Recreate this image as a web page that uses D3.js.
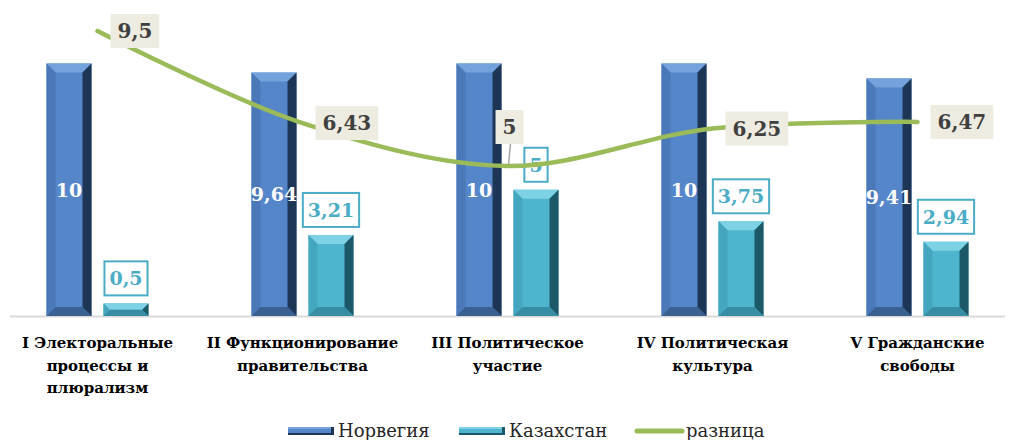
<!DOCTYPE html>
<html>
<head>
<meta charset="utf-8">
<script src="https://cdn.jsdelivr.net/npm/d3@7"></script>
<style>
  body { margin: 0; background: #fff; }
  svg { display: block; }
</style>
</head>
<body>
<script>
// chart data
const categories = [
  "I Электоральные\nпроцессы и\nплюрализм",
  "II Функционирование\nправительства",
  "III Политическое\nучастие",
  "IV Политическая\nкультура",
  "V Гражданские\nсвободы"
];
const seriesNames = ["Норвегия", "Казахстан", "разница"];
const norway = [10, 9.64, 10, 10, 9.41];
const kazakhstan = [0.5, 3.21, 5, 3.75, 2.94];
const diff = [9.5, 6.43, 5, 6.25, 6.47];
const diffLabelPos = ["right", "right", "above", "right", "right"];

const width = 1011, height = 440;
const fmt = v => String(v).replace(".", ",");
const serif = "'DejaVu Serif', serif";

const svg = d3.select("body").append("svg")
    .attr("width", width)
    .attr("height", height);

const x = d3.scaleBand().domain(d3.range(categories.length)).range([-5, 1020]);
const x1 = d3.scaleBand().domain([0, 1])
    .range([x.bandwidth() / 2 - 51, x.bandwidth() / 2 + 51])
    .paddingInner(0.21);
const y = d3.scaleLinear().domain([0, 12]).range([316, 13]);
const y2 = d3.scaleLinear().domain([0, 10]).range([316, 16]);

const colors = {
  nor: { main: "#5586c9", top: "#74a2dc", left: "#4a78b8", right: "#1e3656", bottom: "#3a5f91" },
  kaz: { main: "#4fb5cf", top: "#7ed2e5", left: "#45a6bf", right: "#1c5868", bottom: "#378ea4" }
};

// axis line
svg.append("line")
    .attr("x1", 10).attr("x2", 1005)
    .attr("y1", y(0) + 0.5).attr("y2", y(0) + 0.5)
    .attr("stroke", "#d9d9d9").attr("stroke-width", 2);

function bevelBar(g, x0, w, y0, y1, c) {
  const b = Math.min(9, (y1 - y0) / 2);
  g.append("rect").attr("x", x0).attr("y", y0).attr("width", w).attr("height", y1 - y0).attr("fill", c.main);
  g.append("path").attr("fill", c.top)
      .attr("d", `M${x0},${y0}L${x0 + w},${y0}L${x0 + w - b},${y0 + b}L${x0 + b},${y0 + b}Z`);
  g.append("path").attr("fill", c.left)
      .attr("d", `M${x0},${y0}L${x0 + b},${y0 + b}L${x0 + b},${y1 - b}L${x0},${y1}Z`);
  g.append("path").attr("fill", c.right)
      .attr("d", `M${x0 + w},${y0}L${x0 + w},${y1}L${x0 + w - b},${y1 - b}L${x0 + w - b},${y0 + b}Z`);
  g.append("path").attr("fill", c.bottom)
      .attr("d", `M${x0},${y1}L${x0 + b},${y1 - b}L${x0 + w - b},${y1 - b}L${x0 + w},${y1}Z`);
}

const bars = svg.append("g");
categories.forEach((c, i) => {
  const xa = x(i) + x1(0), xb = x(i) + x1(1), w = x1.bandwidth();
  bevelBar(bars, xa, w, y(norway[i]), y(0), colors.nor);
  bevelBar(bars, xb, w, y(kazakhstan[i]), y(0), colors.kaz);
});

// norway labels
svg.append("g").selectAll("text").data(norway).join("text")
    .attr("x", (d, i) => x(i) + x1(0) + x1.bandwidth() / 2)
    .attr("y", d => (y(d) + y(0)) / 2)
    .attr("dy", "0.36em")
    .attr("text-anchor", "middle")
    .attr("font-family", serif).attr("font-weight", "bold").attr("font-size", 19)
    .attr("fill", "#fff")
    .text(fmt);

// kazakhstan labels
const kl = svg.append("g").selectAll("g").data(kazakhstan).join("g")
    .attr("transform", (d, i) => `translate(${x(i) + x1(1) + x1.bandwidth() / 2},${y(d) - 8 - 17})`);
kl.append("text")
    .attr("text-anchor", "middle").attr("dy", "0.36em")
    .attr("font-family", serif).attr("font-weight", "bold").attr("font-size", 19)
    .attr("fill", "#4bacc6")
    .text(fmt)
    .each(function () {
      const bb = this.getBBox();
      d3.select(this.parentNode).insert("rect", "text")
          .attr("x", -bb.width / 2 - 5).attr("y", -17)
          .attr("width", bb.width + 10).attr("height", 34)
          .attr("fill", "#fff").attr("stroke", "#4bacc6").attr("stroke-width", 2);
    });

// difference line
const cx = i => x(i) + x.bandwidth() / 2;
const line = d3.line().x((d, i) => cx(i)).y(d => y2(d)).curve(d3.curveCatmullRom.alpha(0.5));

const leaders = svg.append("g");
diff.forEach((d, i) => {
  if (diffLabelPos[i] !== "above") return;
  leaders.append("line")
      .attr("x1", cx(i) + 1).attr("y1", y2(d) - 1)
      .attr("x2", cx(i) + 3).attr("y2", y2(d) - 22)
      .attr("stroke", "#a6a6a6").attr("stroke-width", 1.5);
});

svg.append("path")
    .datum(diff)
    .attr("d", line)
    .attr("fill", "none")
    .attr("stroke", "#9bbb59")
    .attr("stroke-width", 4.5)
    .attr("stroke-linecap", "round");

const dl = svg.append("g");
diff.forEach((d, i) => {
  const g = dl.append("g");
  const t = g.append("text")
      .attr("font-family", serif).attr("font-weight", "bold").attr("font-size", 20)
      .attr("fill", "#404040").attr("dy", "0.36em")
      .text(fmt(d));
  const tw = t.node().getBBox().width;
  const bw = tw + 14, bh = 34;
  let bx, by;
  if (diffLabelPos[i] === "above") {
    bx = cx(i) + 2 - bw / 2; by = y2(d) - 22 - bh;
  } else {
    bx = cx(i) + 13; by = y2(d) - bh / 2;
  }
  g.insert("rect", "text")
      .attr("x", bx).attr("y", by).attr("width", bw).attr("height", bh)
      .attr("fill", "#eeece1");
  t.attr("x", bx + 7).attr("y", by + bh / 2);
});

// category labels
const cl = svg.append("g").selectAll("text").data(categories).join("text")
    .attr("text-anchor", "middle")
    .attr("font-family", serif).attr("font-weight", "bold").attr("font-size", 15)
    .attr("fill", "#000");
cl.each(function (d, i) {
  d3.select(this).selectAll("tspan").data(d.split("\n")).join("tspan")
      .attr("x", cx(i))
      .attr("y", (s, k) => 348 + k * 22.5)
      .text(s => s);
});

// legend
const legend = svg.append("g");
const legendX = [288, 459, 635];
seriesNames.forEach((name, i) => {
  const g = legend.append("g").attr("transform", `translate(${legendX[i]},431)`);
  if (i < 2) {
    const c = i === 0 ? colors.nor : colors.kaz;
    g.append("rect").attr("x", 0).attr("y", -4).attr("width", 46).attr("height", 8).attr("fill", c.main);
    g.append("rect").attr("x", 0).attr("y", -4).attr("width", 46).attr("height", 2).attr("fill", c.top);
    g.append("rect").attr("x", 0).attr("y", 2).attr("width", 46).attr("height", 2).attr("fill", c.right);
    g.append("rect").attr("x", 43).attr("y", -4).attr("width", 3).attr("height", 8).attr("fill", c.right);
  } else {
    g.append("line").attr("x1", 2).attr("x2", 47).attr("y1", 0).attr("y2", 0)
        .attr("stroke", "#9bbb59").attr("stroke-width", 5).attr("stroke-linecap", "round");
  }
  g.append("text")
      .attr("x", i < 2 ? 50 : 51).attr("y", 0).attr("dy", "0.36em")
      .attr("font-family", serif).attr("font-size", 18).attr("fill", "#262626")
      .text(name);
});
</script>
</body>
</html>
